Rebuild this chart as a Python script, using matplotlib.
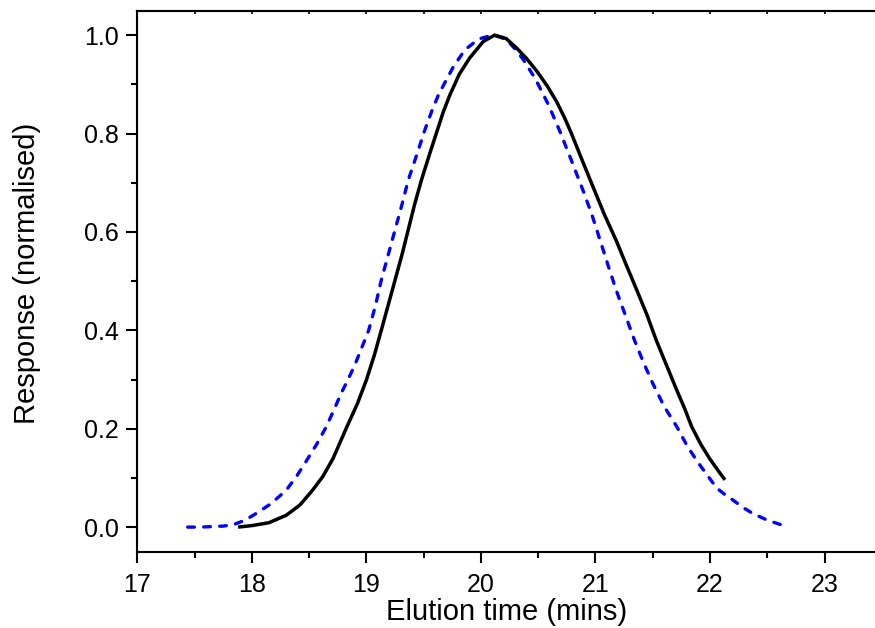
import matplotlib
matplotlib.use("Agg")
import matplotlib.pyplot as plt
from matplotlib.ticker import MultipleLocator, FormatStrFormatter

plt.rcParams['font.family'] = ['Liberation Sans', 'DejaVu Sans']

# black solid trace
t_black = [17.88, 18.00, 18.15, 18.30, 18.42, 18.53, 18.62, 18.71, 18.83, 18.92, 19.00, 19.07,
           19.13, 19.19, 19.25, 19.31, 19.365, 19.42, 19.48, 19.55, 19.61, 19.67, 19.73,
           19.81, 19.90, 20.02, 20.12, 20.22, 20.31, 20.40, 20.49, 20.58, 20.66, 20.73,
           20.79, 20.89, 20.99, 21.08, 21.18, 21.27, 21.36, 21.45, 21.53, 21.62, 21.71,
           21.78, 21.84, 21.92, 22.00, 22.07, 22.13]
r_black = [0.000, 0.003, 0.009, 0.024, 0.045, 0.075, 0.103, 0.140, 0.204, 0.250, 0.299, 0.350,
           0.400, 0.451, 0.502, 0.553, 0.604, 0.655, 0.705, 0.757, 0.800, 0.843, 0.879,
           0.920, 0.953, 0.987, 1.000, 0.993, 0.974, 0.952, 0.926, 0.896, 0.865, 0.832,
           0.800, 0.742, 0.685, 0.634, 0.583, 0.532, 0.482, 0.431, 0.380, 0.329, 0.278,
           0.240, 0.204, 0.168, 0.138, 0.115, 0.096]

# blue dashed trace
t_blue = [17.44, 17.55, 17.65, 17.75, 17.84, 17.94, 18.04, 18.17, 18.30, 18.39, 18.48, 18.57,
          18.65, 18.72, 18.78, 18.84, 18.90, 18.96, 19.02, 19.08, 19.13, 19.19, 19.25,
          19.31, 19.365, 19.44, 19.51, 19.57, 19.63, 19.70, 19.76, 19.86, 19.98, 20.10,
          20.18, 20.25, 20.31, 20.37, 20.47, 20.53, 20.59, 20.69, 20.79, 20.89, 20.97,
          21.04, 21.11, 21.18, 21.26, 21.34, 21.42, 21.50, 21.60, 21.71, 21.80, 21.89,
          21.98, 22.06, 22.13, 22.20, 22.28, 22.37, 22.50, 22.63]
r_blue = [0.000, 0.000, 0.001, 0.002, 0.005, 0.014, 0.028, 0.048, 0.075, 0.103, 0.136, 0.170,
          0.204, 0.240, 0.272, 0.300, 0.330, 0.365, 0.400, 0.451, 0.502, 0.553, 0.604,
          0.655, 0.705, 0.757, 0.807, 0.845, 0.879, 0.910, 0.936, 0.970, 0.992, 1.000,
          0.995, 0.984, 0.969, 0.950, 0.913, 0.886, 0.858, 0.804, 0.745, 0.685, 0.634,
          0.583, 0.532, 0.482, 0.431, 0.380, 0.334, 0.292, 0.245, 0.204, 0.165, 0.133,
          0.104, 0.079, 0.066, 0.055, 0.041, 0.028, 0.014, 0.004]

fig = plt.figure(figsize=(8.75, 6.28), dpi=100)
ax = fig.add_axes([0.1569, 0.1215, 0.8431, 0.8602])

ax.plot(t_black, r_black, color='black', lw=2.5, solid_capstyle='butt',
        solid_joinstyle='round', zorder=3)
ax.plot(t_blue, r_blue, color='#0000ff', lw=2.4, linestyle=(0, (2.0, 2.8)),
        dash_capstyle='round', zorder=2)

ax.set_xlim(17, 23.44)
ax.set_ylim(-0.05, 1.048)
ax.xaxis.set_major_locator(MultipleLocator(1))
ax.xaxis.set_minor_locator(MultipleLocator(0.5))
ax.yaxis.set_major_locator(MultipleLocator(0.2))
ax.yaxis.set_minor_locator(MultipleLocator(0.1))
ax.yaxis.set_major_formatter(FormatStrFormatter('%.1f'))

for s in ['left', 'bottom', 'top']:
    ax.spines[s].set_linewidth(1.5)
ax.spines['right'].set_visible(False)

ax.tick_params(axis='both', which='major', direction='out', length=8, width=1.5,
               labelsize=18, pad=5)
ax.tick_params(axis='x', which='major', pad=7)
ax.tick_params(axis='both', which='minor', direction='out', length=4, width=1.5)

# little inward ticks along the top spine
top = ax.secondary_xaxis('top')
top.xaxis.set_major_locator(MultipleLocator(1))
top.xaxis.set_minor_locator(MultipleLocator(0.5))
top.tick_params(which='both', direction='in', length=2.5, width=1.2, labeltop=False)
top.spines['top'].set_linewidth(1.5)

ax.set_xlabel('Elution time (mins)', fontsize=21)
ax.set_ylabel('Response (normalised)', fontsize=21)
ax.xaxis.set_label_coords(0.5, -0.085)
ax.yaxis.set_label_coords(-0.130, 0.515)

fig.savefig('out.png', dpi=100)
